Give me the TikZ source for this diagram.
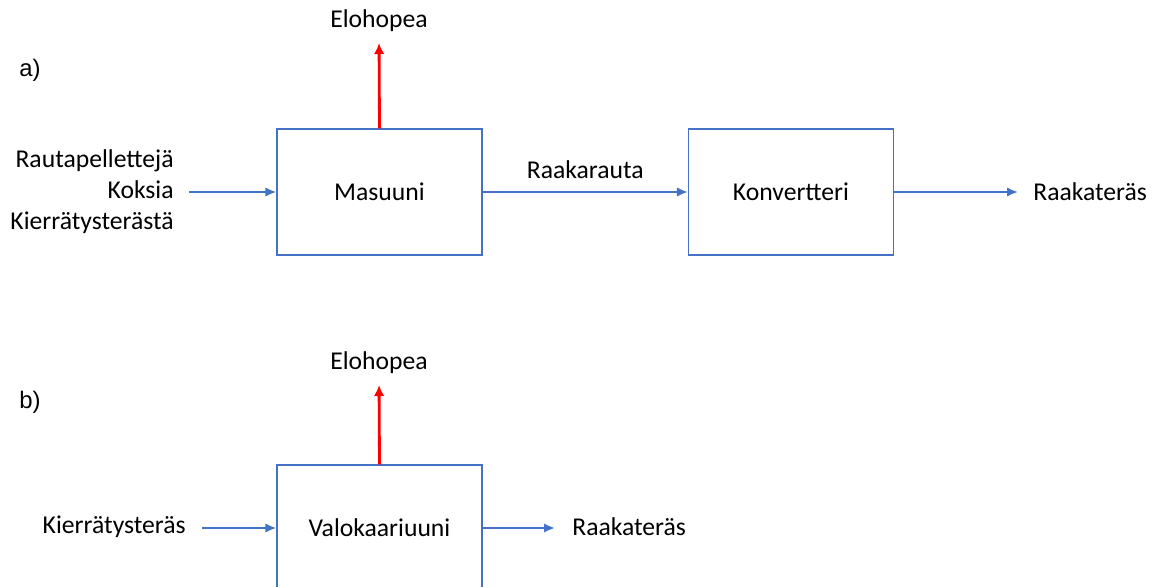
\documentclass[tikz,border=0pt]{standalone}
\usepackage{fontspec}
\setmainfont{Carlito}
\newfontfamily\arialfont{Liberation Sans}
\usetikzlibrary{arrows.meta}
\usetikzlibrary{positioning}

\definecolor{flowblue}{RGB}{68,114,196}
\definecolor{hgred}{RGB}{255,0,0}

\tikzset{
 unitbox/.style={draw=flowblue, line width=0.75pt, minimum width=4.1cm, minimum height=2.52cm, inner sep=0pt, font=\fontsize{14.6}{17.6}\selectfont},
 txt/.style={inner sep=0pt, text=black, font=\fontsize{14.6}{17.6}\selectfont},
 flow/.style={flowblue, line width=1.2pt, ->, >={Latex[length=0.22cm,width=0.19cm]}},
 loss/.style={hgred, line width=1.6pt, ->, >={Latex[length=0.22cm,width=0.21cm]}},
 part/.style={inner sep=0pt, font=\arialfont\fontsize{13.6}{16}\selectfont},
}

\begin{document}
\begin{tikzpicture}[x=0.02cm, y=-0.02cm]
\useasboundingbox (0,0) rectangle (1161,587);

\node[part] (partA) at (30,70) {a)};
\node[part] (partB) at (30,402) {b)};

\node[unitbox] (masuuni) at (379.5,192) {Masuuni};
\node[unitbox] (konv) at (791,192) {Konvertteri};
\node[txt, anchor=east, align=right] (syoteA) at (174,192) {Rautapellettejä\\Koksia\\Kierrätysterästä};
\node[txt, anchor=west] (teräsA) at (1033,192) {Raakateräs};
\node[txt, anchor=south] (hgA) at (379,32) {Elohopea};

\draw[flow, shorten <=0.3cm] (syoteA.east |- masuuni.west) -- (masuuni.west);
\draw[flow] (masuuni.east) -- (konv.west) node[txt, midway, above=0.25cm] (rauta) {Raakarauta};
\draw[flow, shorten >=0.3cm] (konv.east) -- (konv.east -| teräsA.west);
\draw[loss, shorten >=0.22cm] (masuuni.north) -- (hgA.south);

\node[unitbox] (valo) at (379.5,528) {Valokaariuuni};
\node[txt, anchor=east] (syoteB) at (186,527) {Kierrätysteräs};
\node[txt, anchor=west] (teräsB) at (572,527) {Raakateräs};
\node[txt, anchor=south] (hgB) at (379,374) {Elohopea};

\draw[flow, shorten <=0.32cm] (syoteB.east |- valo.west) -- (valo.west);
\draw[flow, shorten >=0.34cm] (valo.east) -- (valo.east -| teräsB.west);
\draw[loss, shorten >=0.22cm] (valo.north) -- (hgB.south);
\end{tikzpicture}
\end{document}
